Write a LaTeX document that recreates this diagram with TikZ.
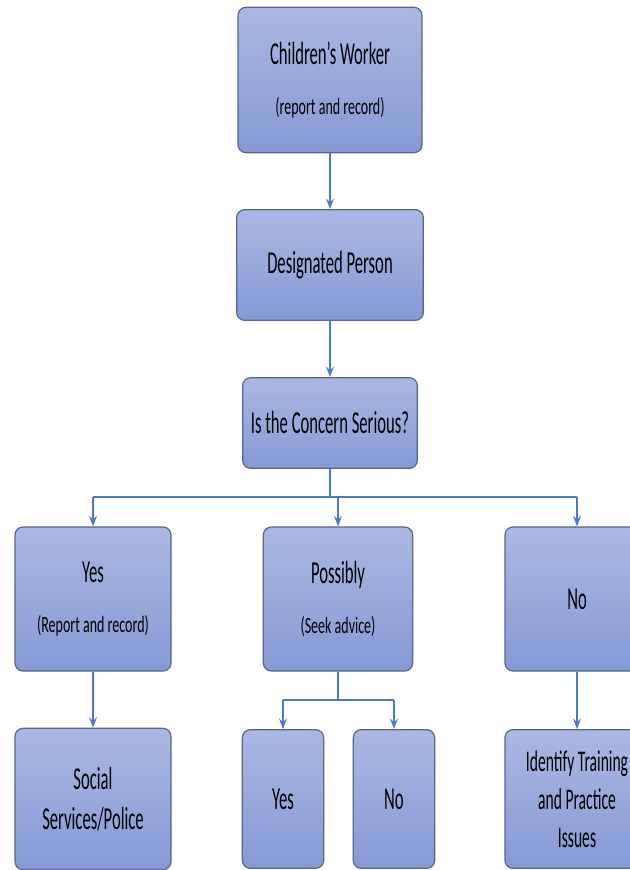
\documentclass[tikz,border=0pt]{standalone}
\usepackage{fontspec}
\setmainfont{Carlito}[FakeStretch=0.52]
\newfontfamily\notefont{Carlito}[FakeStretch=0.6]
\usetikzlibrary{arrows.meta}
\definecolor{boxtop}{HTML}{AAB8E2}
\definecolor{boxbot}{HTML}{8599D5}
\definecolor{boxline}{HTML}{56668F}
\definecolor{linkblue}{HTML}{4A78CD}
\newcommand{\note}[1]{{\notefont\fontsize{17.5}{21}\selectfont #1}}
\tikzset{
  stepbox/.style={draw=boxline, line width=0.9pt, rounded corners=6pt,
    top color=boxtop, bottom color=boxbot, align=center,
    inner sep=0pt, font=\fontsize{24}{29}\selectfont},
  link/.style={draw=linkblue, line width=1pt},
  arrow/.style={link, -{Stealth[length=8pt,width=6pt,inset=3pt]}}
}
\begin{document}
\begin{tikzpicture}[x=0.75pt, y=-0.75pt]
  \useasboundingbox (0,0) rectangle (629,870);
  % Boxes
  \node[stepbox, minimum width=138pt, minimum height=109pt] (worker) at (330,80)
    {Children's Worker\\[8pt]\note{(report and record)}};
  \node[stepbox, minimum width=140pt, minimum height=83pt] (designated) at (330,265)
    {Designated Person};
  \node[stepbox, minimum width=131pt, minimum height=68pt] (concern) at (330,423)
    {Is the Concern Serious?};
  \node[stepbox, minimum width=117pt, minimum height=108pt] (yes) at (93,599)
    {Yes\\[8pt]\note{(Report and record)}};
  \node[stepbox, minimum width=112pt, minimum height=108pt] (possibly) at (338,599)
    {Possibly\\[8pt]\note{(Seek advice)}};
  \node[stepbox, minimum width=108pt, minimum height=108pt] (no) at (577,599)
    {No};
  \node[stepbox, minimum width=117pt, minimum height=106pt, font=\fontsize{24}{30}\selectfont] (police) at (93,799)
    {Social\\Services/Police};
  \node[stepbox, minimum width=61pt, minimum height=104pt] (subyes) at (283,799)
    {Yes};
  \node[stepbox, minimum width=61pt, minimum height=104pt] (subno) at (394,799)
    {No};
  \node[stepbox, minimum width=108pt, minimum height=104pt, font=\fontsize{22.5}{28.5}\selectfont] (training) at (577,799)
    {Identify Training\\and Practice\\Issues};
  % Connectors
  \draw[arrow] (worker) -- (designated);
  \draw[arrow] (designated) -- (concern);
  \coordinate (fork) at (330,497);
  \draw[link] (concern) -- (fork);
  \draw[link] (fork -| yes) -- (fork -| no);
  \foreach \n in {yes,possibly,no} {
    \draw[arrow] (fork -| \n) -- (\n.north);
  }
  \coordinate (subfork) at (338,700);
  \draw[link] (possibly) -- (subfork);
  \draw[link] (subfork -| subyes) -- (subfork -| subno);
  \foreach \n in {subyes,subno} {
    \draw[arrow] (subfork -| \n) -- (\n.north);
  }
  \draw[arrow] (yes) -- (police);
  \draw[arrow] (no) -- (training);
\end{tikzpicture}
\end{document}
